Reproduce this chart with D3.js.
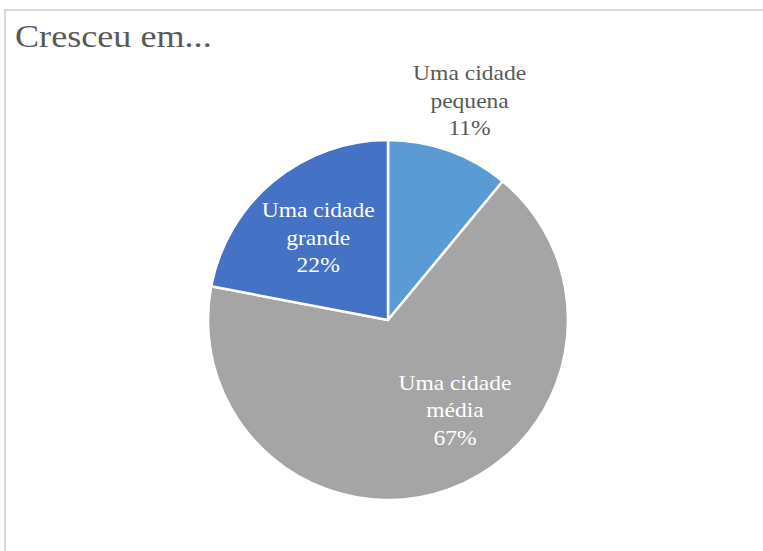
<!DOCTYPE html>
<html>
<head>
<meta charset="utf-8">
<script src="https://cdn.jsdelivr.net/npm/d3@7"></script>
<style>
  html, body { margin: 0; padding: 0; background: #fff; }
  svg { display: block; }
  text { font-family: "Liberation Serif", Tinos, "Times New Roman", Times, "DejaVu Serif", serif; }
</style>
</head>
<body>
<svg id="chart" width="763" height="551"></svg>
<script>
// Share of respondents by size of the city they grew up in
const categories = ["Uma cidade pequena", "Uma cidade média", "Uma cidade grande"];
const nameLines = [["Uma cidade", "pequena"], ["Uma cidade", "média"], ["Uma cidade", "grande"]];
const values = [11, 67, 22];
const colors = ["#5B9BD5", "#A5A5A5", "#4472C4"];
const titleText = "Cresceu em...";

const W = 763, H = 551;
const svg = d3.select("#chart");

// chart frame (left and top edges visible)
svg.append("path")
  .attr("d", `M5,${H} L5,10 L${W},10`)
  .attr("fill", "none")
  .attr("stroke", "#d9d9d9")
  .attr("stroke-width", 2);

svg.append("text")
  .attr("x", 15).attr("y", 47)
  .attr("font-size", 32)
  .attr("fill", "#595959")
  .attr("transform", "translate(15,0) scale(1.13,1) translate(-15,0)")
  .text(titleText);

const cx = 388, cy = 320, R = 180;
const g = svg.append("g").attr("transform", `translate(${cx},${cy})`);

const pie = d3.pie().sort(null).value(d => d)(values);
const arc = d3.arc().innerRadius(0).outerRadius(R);

g.selectAll("path.slice")
  .data(pie)
  .join("path")
  .attr("class", "slice")
  .attr("d", arc)
  .attr("fill", (d, i) => colors[i])
  .attr("stroke", "#fff")
  .attr("stroke-width", 2.5)
  .attr("stroke-linejoin", "round");

// label placement: radius along slice direction plus a small nudge
const labelLayout = [
  { r: 232, dx: 3, dy: -2, outside: true },
  { r: 112, dx: 29, dy: -16, outside: false },
  { r: 108, dx: -1, dy: 0, outside: false }
];

const lineH = 27.5;
pie.forEach((d, i) => {
  const L = labelLayout[i];
  const a = (d.startAngle + d.endAngle) / 2;
  const x = Math.sin(a) * L.r + L.dx;
  const y = -Math.cos(a) * L.r + L.dy;
  const lines = nameLines[i].concat([d3.format(".0f")(d.data) + "%"]);
  const t = g.append("text")
    .attr("font-size", 22)
    .attr("fill", L.outside ? "#595959" : "#ffffff")
    .attr("text-anchor", "middle")
    .attr("transform", `translate(${x},${y}) scale(1.07,1)`);
  lines.forEach((ln, k) => {
    t.append("tspan")
      .attr("x", 0)
      .attr("y", (k - 1) * lineH + 8)
      .text(ln);
  });
});
</script>
</body>
</html>
